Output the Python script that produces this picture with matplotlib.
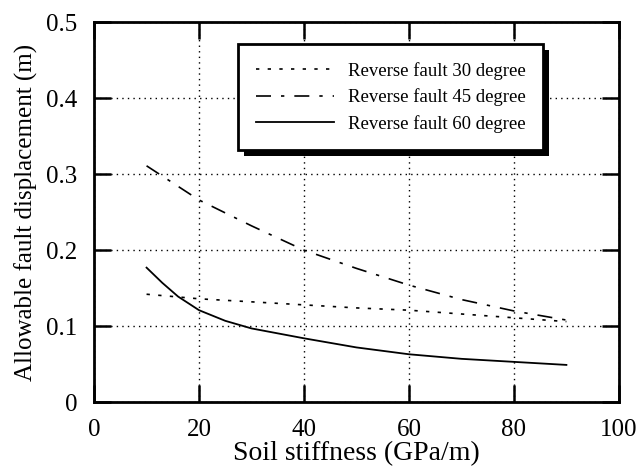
import matplotlib
matplotlib.use("Agg")
import matplotlib.pyplot as plt
from matplotlib.patches import Rectangle

plt.rcParams['font.family'] = ['Liberation Serif', 'DejaVu Serif']

# 读图估计的数据
x_30 = [10, 20, 30, 40, 50, 60, 70, 80, 90]
y_30 = [0.142, 0.136, 0.132, 0.128, 0.124, 0.121, 0.116, 0.111, 0.106]
x_45 = [10, 20, 30, 40, 50, 60, 70, 80, 90]
y_45 = [0.311, 0.266, 0.232, 0.200, 0.176, 0.154, 0.135, 0.120, 0.108]
x_60 = [10, 13, 16, 20, 25, 30, 40, 50, 60, 70, 80, 90]
y_60 = [0.177, 0.157, 0.139, 0.121, 0.107, 0.097, 0.084, 0.072, 0.063, 0.057, 0.053, 0.049]
labels = ["Reverse fault 30 degree", "Reverse fault 45 degree", "Reverse fault 60 degree"]
xticks = [0, 20, 40, 60, 80, 100]
yticks = [0, 0.1, 0.2, 0.3, 0.4, 0.5]
ytick_labels = ["0", "0.1", "0.2", "0.3", "0.4", "0.5"]

fig = plt.figure(figsize=(6.4, 4.72), dpi=100)
ax = fig.add_axes([0.147, 0.148, 0.82, 0.805])

ax.plot(x_30, y_30, color='k', lw=1.2, linestyle=(0, (2, 5)), label=labels[0])
ax.plot(x_45, y_45, color='k', lw=1.2, linestyle=(0, (9, 6, 2, 6)), label=labels[1])
ax.plot(x_60, y_60, color='k', lw=1.3, linestyle='-', label=labels[2])

ax.set_xlim(0, 100)
ax.set_ylim(0, 0.5)
ax.set_xticks(xticks)
ax.set_yticks(yticks)
ax.set_yticklabels(ytick_labels)
ax.tick_params(direction='in', length=12, width=1.8, pad=12, labelsize=18,
               top=True, right=True)
for s in ax.spines.values():
    s.set_linewidth(2)
ax.grid(True, color='k', linestyle=(0, (1, 3)), linewidth=1)

ax.set_xlabel("Soil stiffness (GPa/m)", fontsize=20, labelpad=0)
ax.set_ylabel("Allowable fault displacement (m)", fontsize=18, labelpad=6)

leg = ax.legend(loc='upper left', bbox_to_anchor=(0.274, 0.942), fontsize=13.5,
                fancybox=False, edgecolor='k', framealpha=1, handlelength=4.2,
                handletextpad=0.7, labelspacing=0.45, borderpad=0.95,
                borderaxespad=0)
leg.get_frame().set_linewidth(2)
leg.set_zorder(6)

# 黑色阴影
fig.canvas.draw()
bb = leg.get_window_extent()
shadow = Rectangle((bb.x0 + 6, bb.y0 - 6), bb.width, bb.height, transform=None,
                   facecolor='k', edgecolor='none', zorder=5)
ax.add_artist(shadow)

fig.savefig("out.png", dpi=100)
